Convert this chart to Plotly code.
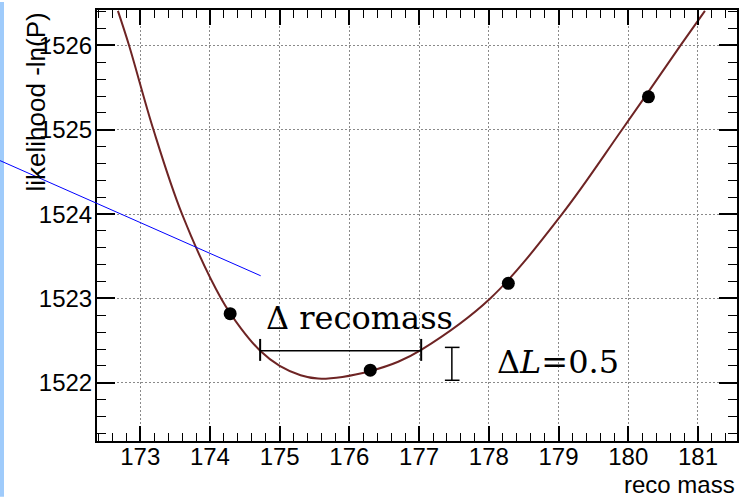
import plotly.graph_objects as go

# measured points
mass = [174.29, 176.30, 178.28, 180.29]
nll = [1522.82, 1522.15, 1523.18, 1525.39]

# fitted curve
curve_x = [172.68, 172.84, 173.19, 173.60, 174.16, 174.45, 174.72, 175.00, 175.30,
           175.55, 175.90, 176.30, 176.70, 177.03, 178.02, 179.05, 179.91, 180.75,
           181.10]
curve_y = [1526.41, 1526.00, 1525.00, 1524.00, 1523.00, 1522.64, 1522.38, 1522.20,
           1522.09, 1522.05, 1522.07, 1522.14, 1522.25, 1522.39, 1523.00, 1524.00,
           1525.00, 1526.00, 1526.41]

x_range = [172.38, 181.56]
y_range = [1521.31, 1526.42]

W, H = 751, 497
L, R, T, B = 97, 14, 8, 56
PW, PH = W - L - R, H - T - B


def px(xp):
    return (xp - L) / PW


def py(yp):
    return (H - B - yp) / PH


fig = go.Figure()
fig.add_trace(go.Scatter(x=curve_x, y=curve_y, mode="lines",
                         line=dict(color="#6e2424", width=2, shape="spline", smoothing=1.0),
                         hoverinfo="skip", showlegend=False))
fig.add_trace(go.Scatter(x=mass, y=nll, mode="markers",
                         marker=dict(color="black", size=13), showlegend=False))

tickfont = dict(family="Liberation Sans, Arial, sans-serif", size=24, color="black")
axis_common = dict(showline=True, linecolor="black", linewidth=2, mirror="allticks",
                   ticks="inside", tickcolor="black", tickwidth=1.5, dtick=1,
                   showgrid=True, gridcolor="#8a8a8a", gridwidth=1, griddash="2px,2px",
                   zeroline=False, tickfont=tickfont)

fig.update_xaxes(range=x_range, ticklen=15, tick0=0, ticklabelstandoff=-7,
                 minor=dict(dtick=0.2, ticklen=8, ticks="inside", tickcolor="black",
                            tickwidth=1, showgrid=False),
                 **axis_common)
fig.update_yaxes(range=y_range, ticklen=18, tick0=0, tickformat="d", ticklabelstandoff=-2,
                 minor=dict(dtick=0.2, ticklen=9, ticks="inside", tickcolor="black",
                            tickwidth=1, showgrid=False),
                 **axis_common)

shapes = []
# light blue strip on the left edge
shapes.append(dict(type="rect", xref="paper", yref="paper", x0=px(0), x1=px(4),
                   y0=py(H), y1=py(0), fillcolor="#9fcbfb", line=dict(width=0), layer="below"))
# blue line
shapes.append(dict(type="line", xref="paper", yref="paper", x0=px(0), y0=py(159.3),
                   x1=px(260.7), y1=py(275), line=dict(color="#0000ff", width=1)))
# Delta recomass bar
shapes.append(dict(type="line", x0=174.72, x1=177.03, y0=1522.38, y1=1522.38,
                   line=dict(color="black", width=1.5)))
for xv in (174.72, 177.03):
    shapes.append(dict(type="line", x0=xv, x1=xv, y0=1522.26, y1=1522.52,
                       line=dict(color="black", width=2)))
# Delta L bar
shapes.append(dict(type="line", x0=177.47, x1=177.47, y0=1522.03, y1=1522.42,
                   line=dict(color="black", width=1.5)))
for yv in (1522.03, 1522.42):
    shapes.append(dict(type="line", x0=177.37, x1=177.58, y0=yv, y1=yv,
                       line=dict(color="black", width=1.5)))

annotations = [
    dict(text="likelihood -ln(P)", xref="paper", yref="paper", x=px(36), y=py(9),
         xanchor="center", yanchor="top", textangle=-90, showarrow=False,
         font=dict(family="Liberation Sans, Arial, sans-serif", size=26, color="black")),
    dict(text="reco mass", xref="paper", yref="paper", x=px(737), y=py(485),
         xanchor="right", yanchor="middle", showarrow=False,
         font=dict(family="Liberation Sans, Arial, sans-serif", size=24, color="black")),
    dict(text="Δ recomass", xref="paper", yref="paper", x=px(264), y=py(317),
         xanchor="left", yanchor="middle", showarrow=False,
         font=dict(family="DejaVu Serif, serif", size=32, color="black")),
    dict(text="Δ<i>L</i>=0.5", xref="paper", yref="paper", x=px(495), y=py(362),
         xanchor="left", yanchor="middle", showarrow=False,
         font=dict(family="DejaVu Serif, serif", size=32, color="black")),
]

fig.update_layout(width=W, height=H, margin=dict(l=L, r=R, t=T, b=B, pad=0),
                  paper_bgcolor="white", plot_bgcolor="white",
                  shapes=shapes, annotations=annotations, showlegend=False)

fig.write_html("out.html")
